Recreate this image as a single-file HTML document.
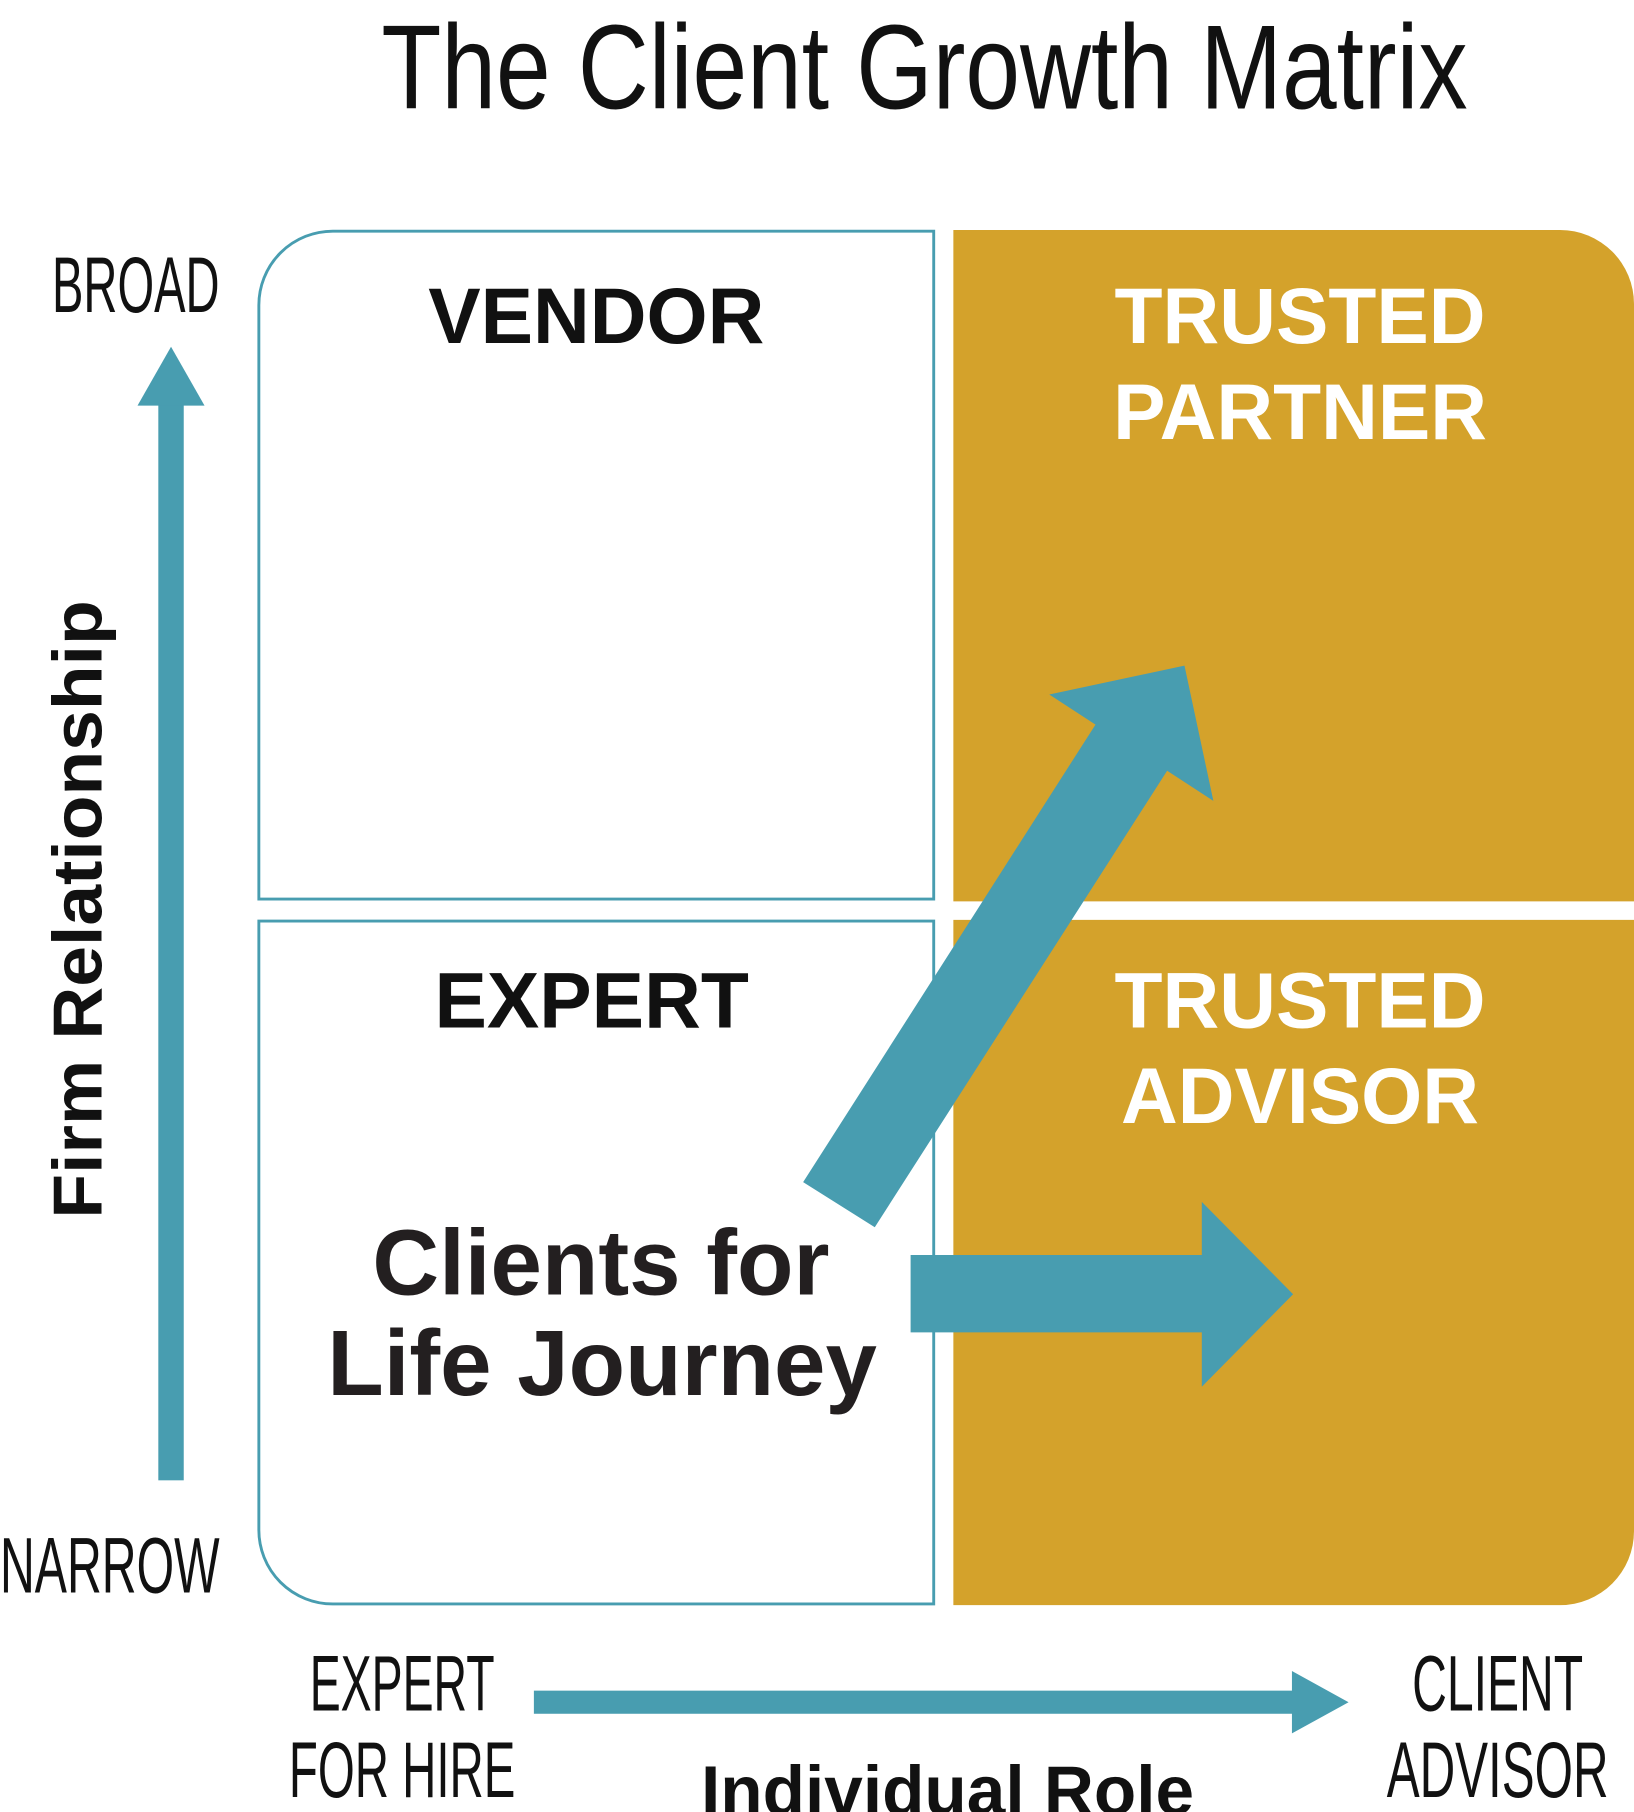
<!DOCTYPE html>
<html><head><meta charset="utf-8"><style>
html,body{margin:0;padding:0;background:#fff;}
svg{display:block;}
</style></head><body>
<svg width="1634" height="1812" viewBox="0 0 1414 1568" xmlns="http://www.w3.org/2000/svg">
<g font-family="Liberation Sans, sans-serif">
<!-- title -->
<text x="330" y="94" font-size="104" textLength="940" lengthAdjust="spacingAndGlyphs" fill="#111">The Client Growth Matrix</text>

<!-- left quadrants -->
<path d="M288,200 H808 V778 H224 V264 A64,64 0 0 1 288,200 Z" fill="#fff" stroke="#489DB0" stroke-width="2.5"/>
<path d="M224,797 H808 V1388 H288 A64,64 0 0 1 224,1324 Z" fill="#fff" stroke="#489DB0" stroke-width="2.5"/>
<!-- gold -->
<path d="M825,199 H1350 A64,64 0 0 1 1414,263 V780 H825 Z" fill="#D4A22B"/>
<path d="M825,796 H1414 V1325 A64,64 0 0 1 1350,1389 H825 Z" fill="#D4A22B"/>

<!-- quadrant labels -->
<g font-weight="bold" font-size="68" text-anchor="middle">
<text x="516" y="297" fill="#111">VENDOR</text>
<text x="512" y="889" fill="#111">EXPERT</text>
<text x="1125" y="297" fill="#fff">TRUSTED</text>
<text x="1125" y="380" fill="#fff">PARTNER</text>
<text x="1125" y="889" fill="#fff">TRUSTED</text>
<text x="1125" y="972" fill="#fff">ADVISOR</text>
</g>

<!-- arrows -->
<polygon points="695,1023 757,1062 1010,667 1050,693 1025,576 908,601 948,627" fill="#489DB0"/>
<polygon points="788,1086 1040,1086 1040,1040 1119,1120 1040,1200 1040,1153 788,1153" fill="#489DB0"/>
<rect x="137" y="348" width="22" height="933" fill="#489DB0"/>
<polygon points="148,300 177,351 119,351" fill="#489DB0"/>
<rect x="462" y="1463" width="658" height="20" fill="#489DB0"/>
<polygon points="1167,1473 1118,1446 1118,1500" fill="#489DB0"/>

<!-- journey text -->
<g font-weight="bold" font-size="80" fill="#231f20" text-anchor="middle">
<text x="520" y="1120">Clients for</text>
<text x="521" y="1207">Life Journey</text>
</g>

<!-- axis labels -->
<g font-size="68" fill="#111">
<text x="45" y="270" textLength="145" lengthAdjust="spacingAndGlyphs">BROAD</text>
<text x="0" y="1378" textLength="190" lengthAdjust="spacingAndGlyphs">NARROW</text>
<text x="268" y="1480" textLength="160" lengthAdjust="spacingAndGlyphs">EXPERT</text>
<text x="250" y="1555" textLength="196" lengthAdjust="spacingAndGlyphs">FOR HIRE</text>
<text x="1222" y="1480" textLength="148" lengthAdjust="spacingAndGlyphs">CLIENT</text>
<text x="1200" y="1555" textLength="192" lengthAdjust="spacingAndGlyphs">ADVISOR</text>
</g>
<text x="820" y="1570" font-size="60" font-weight="bold" text-anchor="middle" fill="#111">Individual Role</text>
<text transform="translate(88,787) rotate(-90)" font-size="60" font-weight="bold" text-anchor="middle" fill="#111" textLength="535" lengthAdjust="spacingAndGlyphs">Firm Relationship</text>
</g>
</svg>
</body></html>
